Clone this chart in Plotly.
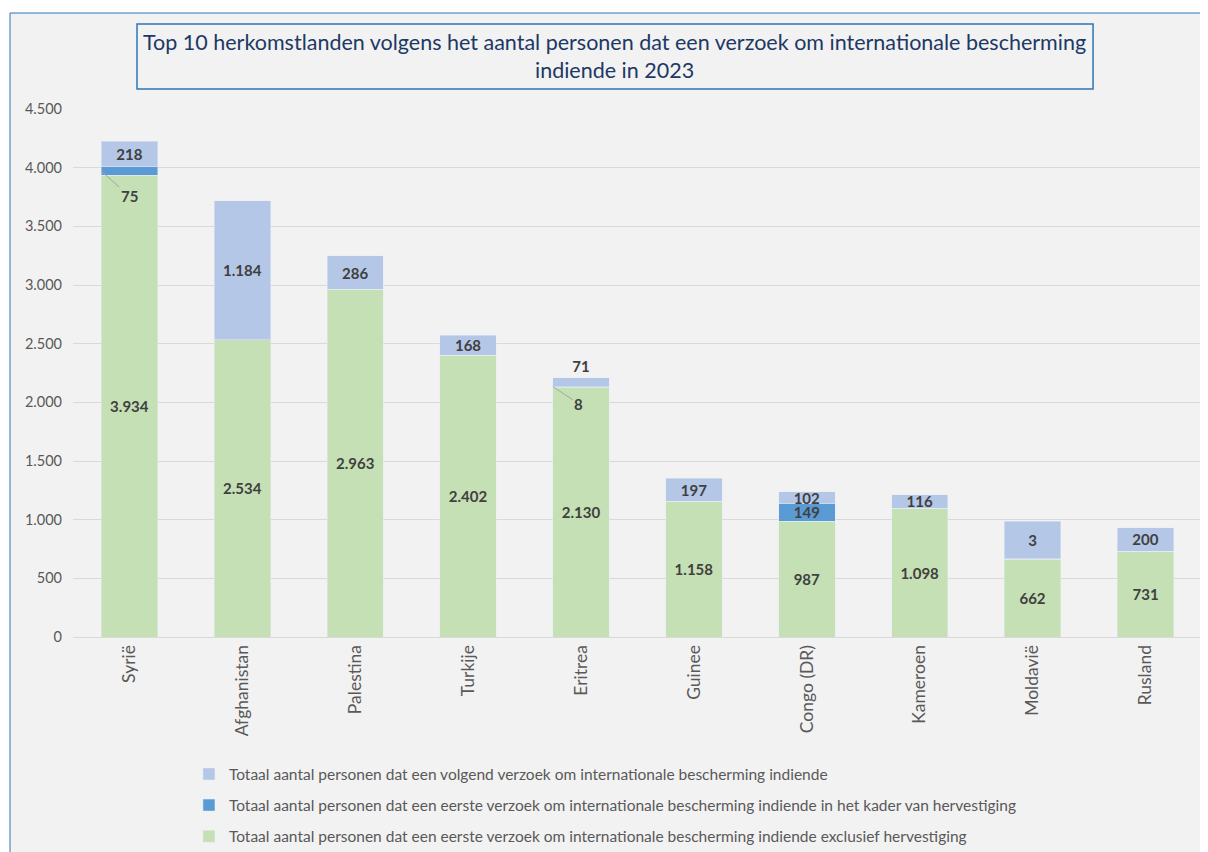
import plotly.graph_objects as go

categories = ["Syrië", "Afghanistan", "Palestina", "Turkije", "Eritrea",
              "Guinee", "Congo (DR)", "Kameroen", "Moldavië", "Rusland"]
eerste_excl = [3934, 2534, 2963, 2402, 2130, 1158, 987, 1098, 662, 731]
hervestiging = [75, 0, 0, 0, 8, 0, 149, 0, 3, 0]
volgend = [218, 1184, 286, 168, 71, 197, 102, 116, 320, 200]

excl_labels = ["3.934", "2.534", "2.963", "2.402", "2.130", "1.158", "987", "1.098", "662", "731"]
herv_labels = ["", "", "", "", "", "", "149", "", "", ""]
volg_labels = ["218", "1.184", "286", "168", "71", "197", "102", "116", "3", "200"]
volg_positions = ["inside", "inside", "inside", "inside", "outside",
                  "inside", "inside", "inside", "inside", "inside"]

name_volg = "Totaal aantal personen dat een volgend verzoek om internationale bescherming indiende"
name_herv = "Totaal aantal personen dat een eerste verzoek om internationale bescherming indiende in het kader van hervestiging"
name_excl = "Totaal aantal personen dat een eerste verzoek om internationale bescherming indiende exclusief hervestiging"

FONT = "Lato, Calibri, Carlito, sans-serif"
label_font = dict(family=FONT, size=15, color="#404040", weight="bold")

fig = go.Figure()
fig.add_trace(go.Bar(x=categories, y=eerste_excl, name=name_excl, marker_color="#c5e0b4",
                     text=excl_labels, textposition="inside", insidetextanchor="middle",
                     textangle=0, textfont=label_font, constraintext="none",
                     legendrank=3, legendgroup="g3"))
fig.add_trace(go.Bar(x=categories, y=hervestiging, name=name_herv, marker_color="#5b9bd5",
                     text=herv_labels, textposition="inside", insidetextanchor="middle",
                     textangle=0, textfont=label_font, constraintext="none",
                     legendrank=2, legendgroup="g2"))
fig.add_trace(go.Bar(x=categories, y=volgend, name=name_volg, marker_color="#b4c7e7",
                     text=volg_labels, textposition=volg_positions, insidetextanchor="middle",
                     textangle=0, textfont=label_font, outsidetextfont=label_font,
                     constraintext="none", legendrank=1, legendgroup="g1", cliponaxis=False))

# leader-line labels for small resettlement segments
for idx, ax, ay in [(0, 28, 25), (4, 26, 17)]:
    fig.add_annotation(x=idx - 0.25, y=eerste_excl[idx] + hervestiging[idx] / 2,
                       xref="x", yref="y", text="<b>%d</b>" % hervestiging[idx],
                       showarrow=True, arrowhead=0, arrowwidth=1, arrowcolor="#a6a6a6",
                       ax=ax, ay=ay, font=dict(family=FONT, size=15, color="#404040"))

# chart area background & border
fig.add_shape(type="rect", xref="paper", yref="paper", x0=-0.0558, x1=1.03, y0=-0.7, y1=1.1818,
              line=dict(color="#2e75b6", width=1), fillcolor="#f2f2f2", layer="below")
# title box
fig.add_shape(type="rect", xref="paper", yref="paper", x0=0.0567, x1=0.9035, y0=1.0379, y1=1.161,
              line=dict(color="#2e75b6", width=1.5), fillcolor="#f2f2f2", layer="below")
fig.add_annotation(xref="paper", yref="paper", x=0.480, y=1.0995, showarrow=False,
                   xanchor="center", yanchor="middle",
                   text="Top 10 herkomstlanden volgens het aantal personen dat een verzoek om internationale bescherming<br>indiende in 2023",
                   font=dict(family=FONT, size=21.5, color="#203864"), align="center")

fig.update_layout(
    width=1200, height=880,
    margin=dict(l=65, r=6, t=101, b=251),
    barmode="stack", bargap=0.5,
    separators=",.",
    paper_bgcolor="white", plot_bgcolor="rgba(0,0,0,0)",
    font=dict(family=FONT, color="#595959"),
    showlegend=True,
    legend=dict(x=0.1027, y=-0.228, xanchor="left", yanchor="top",
                traceorder="grouped", tracegroupgap=8,
                font=dict(family=FONT, size=15.5, color="#595959"),
                bgcolor="rgba(0,0,0,0)"),
)
fig.update_yaxes(range=[0, 4500], dtick=500, tickformat=",d", gridcolor="#d9d9d9",
                 gridwidth=1, zeroline=False, showline=False, ticklabelstandoff=10,
                 tickfont=dict(family=FONT, size=14.5, color="#595959"))
fig.update_xaxes(tickangle=-90, showline=True, linecolor="#d9d9d9",
                 tickfont=dict(family=FONT, size=17.5, color="#595959"))

fig.write_html("out.html")
